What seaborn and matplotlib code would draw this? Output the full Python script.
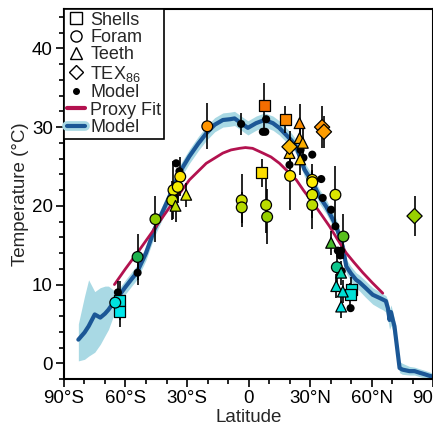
import numpy as np
import pandas as pd
import matplotlib
matplotlib.use('Agg')
import matplotlib.pyplot as plt
from matplotlib.lines import Line2D
from matplotlib.colors import LinearSegmentedColormap
from matplotlib.ticker import MultipleLocator
import seaborn as sns

# model zonal mean curve
model_lat = [-83, -80, -78, -75, -72.3, -70, -68.3, -65.9, -63.4, -60, -57, -54.5, -50, -45.9,
             -42, -38.5, -33.7, -28.8, -24.5, -20.6, -16.5, -12.5, -9, -6.8, -3.6, -0.3, 3.7,
             7.8, 11.9, 15, 18.4, 21, 23.3, 27.3, 31.4, 34.6, 37.9, 40.5, 42.8, 46, 47.7, 50,
             52.5, 54.1, 57, 60.6, 63.9, 65.5, 67, 68, 68.8, 69.5, 70.3, 71.2, 72.8, 73.7, 75,
             78.5, 81, 83.4, 86, 88.3, 90]
model_T = [3.0, 3.9, 4.7, 6.2, 5.8, 6.3, 6.8, 7.7, 8.5, 9.7, 10.7, 11.5, 14.0, 17.0,
           19.2, 21.2, 24.2, 26.3, 27.9, 29.2, 30.3, 30.9, 31.0, 31.1, 30.5, 29.9, 30.5,
           30.9, 30.5, 29.9, 29.0, 28.3, 27.5, 24.6, 22.9, 21.2, 19.9, 18.6, 17.4, 14.8, 12.3, 11.4,
           10.6, 10.3, 9.6, 8.7, 8.3, 8.1, 7.9, 7.0, 5.5, 6.5, 5.6, 4.7, 1.3, -0.6, -0.8,
           -1.0, -1.0, -1.2, -1.4, -1.6, -1.7]
model_lo = [0.3, 0.5, 0.9, 1.4, 2.4, 3.5, 4.3, 6.0, 7.5, 8.8, 9.8, 10.6, 13.1, 16.1,
            18.3, 20.3, 23.3, 25.4, 27.0, 28.3, 29.4, 30.0, 30.1, 30.2, 29.6, 29.0, 29.6,
            30.0, 29.6, 29.0, 28.1, 27.4, 26.6, 23.7, 22.0, 20.3, 19.0, 17.7, 16.5, 13.9, 11.4, 10.4,
            9.6, 9.2, 8.4, 7.5, 7.0, 6.8, 6.5, 5.5, 4.3, 4.8, 4.2, 2.8, 0.4, -1.2, -1.4,
            -1.5, -1.5, -1.7, -1.9, -2.0, -2.0]
model_hi = [5.0, 8.5, 10.6, 9.1, 9.6, 9.8, 9.8, 9.3, 9.4, 10.6, 11.6, 12.4, 14.9, 17.9,
            20.1, 22.1, 25.1, 27.2, 28.8, 30.1, 31.2, 31.8, 31.9, 32.0, 31.4, 30.8, 31.4,
            31.8, 31.4, 30.8, 29.9, 29.2, 28.4, 25.5, 23.8, 22.1, 20.8, 19.5, 18.3, 15.7, 13.2, 12.3,
            11.5, 11.2, 10.5, 9.6, 9.1, 8.8, 8.6, 8.0, 6.8, 7.4, 6.6, 5.6, 2.3, 0.2, 0.0,
            -0.4, -0.5, -0.7, -0.9, -1.1, -1.3]

# proxy fit curve
fit_lat = [-65.4, -60, -53.2, -45, -36.9, -28.8, -20.6, -12.5, -8.5, -4.4, -1.5, 2, 7,
           11, 15.1, 19, 23.3, 27, 31.4, 35.5, 39.5, 43.5, 47.7, 51.5, 55.8, 60.5, 65.5]
fit_T = [10.0, 12.0, 14.4, 17.4, 20.4, 23.3, 25.4, 26.7, 27.1, 27.3, 27.4, 27.3, 26.7,
         26.2, 25.4, 24.4, 23.3, 21.9, 20.4, 18.9, 17.4, 15.7, 14.0, 12.8, 11.5, 10.2, 8.9]

# proxy records: latitude, temperature, error, type
proxy_lat = [-62.9, -62.9, 6.5, 7.8, 18.0, 50.1, 49.6,
             -65.0, -54.1, -45.4, -36.6, -37.2, -33.3, -34.5, -20.1, -3.3, -3.3, 8.6, 9.1,
             20.3, 31.1, 31.1, 31.1, 31.1, 42.4, 46.3, 43.1,
             -35.6, -30.4, 20.0, 24.9, 24.9, 26.5, 25.2, 40.3, 45.2, 42.8, 46.0, 45.2,
             20.0, 35.9, 36.8, 81.0]
proxy_T = [8.0, 6.6, 24.2, 32.7, 31.0, 9.4, 8.7,
           7.7, 13.5, 18.3, 22.0, 20.7, 23.7, 22.4, 30.1, 20.7, 19.8, 20.1, 18.6,
           23.8, 23.3, 23.0, 21.4, 20.1, 21.4, 16.1, 12.2,
           20.0, 21.4, 26.7, 30.5, 28.6, 28.0, 25.9, 15.3, 11.5, 9.8, 9.1, 7.2,
           27.5, 30.0, 29.4, 18.7]
proxy_err = [2.5, 2.0, 1.8, 2.9, 1.7, 1.5, 1.5,
             0.0, 2.9, 2.9, 3.7, 2.5, 2.5, 2.0, 2.9, 3.4, 2.0, 3.5, 3.5,
             4.3, 2.0, 1.5, 3.0, 3.0, 3.6, 2.8, 2.0,
             2.0, 1.5, 2.0, 2.4, 2.0, 2.0, 2.0, 1.5, 1.5, 1.5, 1.5, 1.5,
             2.0, 2.7, 2.0, 2.5]
proxy_type = (['Shells'] * 7 + ['Foram'] * 20 + ['Teeth'] * 12 + ['TEX86'] * 4)

# model values at proxy sites
site_lat = [-63.7, -54.1, -35.3, -33.7, -36.0, -3.6, 8.6, 7.0, 8.2, 20.0, 25.4, 26.8, 31.1,
            35.5, 36.2, 40.3, 42.4, 43.6, 45.2, 44.7, 45.5, 49.8]
site_T = [9.0, 11.5, 25.4, 24.4, 21.0, 30.4, 31.0, 29.4, 29.4, 25.2, 27.1, 26.1, 26.5,
          23.4, 21.0, 19.5, 17.4, 14.3, 14.3, 13.7, 11.7, 7.0]
site_err = [1.5, 1.5, 0, 0, 0, 1.4, 0, 0, 0, 0, 0, 0, 0, 0, 0, 0, 0, 0, 0, 0, 0, 0]

xticks = [-90, -60, -30, 0, 30, 60, 90]
xticklabels = ['90°S', '60°S', '30°S', '0', '30°N', '60°N', '90°N']

sns.set_style('ticks')
plt.rcParams['font.family'] = ['Liberation Sans', 'DejaVu Sans']
plt.rcParams['mathtext.default'] = 'regular'

proxies = pd.DataFrame({'lat': proxy_lat, 'T': proxy_T, 'err': proxy_err, 'kind': proxy_type})
sites = pd.DataFrame({'lat': site_lat, 'T': site_T, 'err': site_err})
model = pd.DataFrame({'lat': model_lat, 'T': model_T})
fit = pd.DataFrame({'lat': fit_lat, 'T': fit_T})

dark_blue = '#1b5796'
light_blue = '#a9d9e4'
crimson = '#b3124f'
cmap = LinearSegmentedColormap.from_list('temps', [
    (0.0, '#00e8f0'), (0.18, '#00d8c0'), (0.27, '#1fb04a'), (0.42, '#7ec800'),
    (0.52, '#c8e000'), (0.6, '#fff000'), (0.72, '#f8c400'), (0.86, '#ff9500'), (1.0, '#ee5a00')])

fig = plt.figure(figsize=(4.33, 4.32), dpi=100)
ax = fig.add_axes([64 / 433, 53 / 432, 369 / 433, 370 / 432])

ax.fill_between(model_lat, model_lo, model_hi, color=light_blue, lw=0, zorder=1)
sns.lineplot(data=model, x='lat', y='T', color=dark_blue, lw=3, sort=False, ax=ax, zorder=2)
sns.lineplot(data=fit, x='lat', y='T', color=crimson, lw=2, sort=False, ax=ax, zorder=2.5)

bars = pd.concat([proxies[proxies['err'] > 0], sites[sites['err'] > 0]])
ax.vlines(bars['lat'], bars['T'] - bars['err'], bars['T'] + bars['err'],
          color='black', lw=1.2, zorder=3)

sns.scatterplot(data=sites, x='lat', y='T', color='black', s=34, edgecolor='none',
                ax=ax, zorder=3.5, legend=False)
sns.scatterplot(data=proxies, x='lat', y='T', hue='T', style='kind',
                markers={'Shells': 's', 'Foram': 'o', 'Teeth': '^', 'TEX86': 'D'},
                palette=cmap, hue_norm=(6, 34), s=60, edgecolor='black', linewidth=0.9,
                ax=ax, zorder=4, legend=False)

ax.set_xlim(-90, 90)
ax.set_ylim(-2, 45)
ax.set_xticks(xticks)
ax.set_xticklabels(xticklabels)
ax.set_yticks([0, 10, 20, 30, 40])
ax.xaxis.set_minor_locator(MultipleLocator(10))
ax.yaxis.set_minor_locator(MultipleLocator(2))
ax.tick_params(which='major', length=6, width=1.2, labelsize=13.5, color='black',
               labelcolor='black', pad=2)
ax.tick_params(which='minor', length=3.5, width=1.2, color='black')
for side in ['left', 'bottom', 'top', 'right']:
    ax.spines[side].set_linewidth(1.5)
    ax.spines[side].set_color('black')
ax.set_xlabel('Latitude', fontsize=13.5, labelpad=1)
ax.set_ylabel('Temperature (°C)', fontsize=13.5, labelpad=2)

handles = [
    Line2D([], [], marker='s', ls='', mfc='white', mec='black', ms=8, mew=1),
    Line2D([], [], marker='o', ls='', mfc='white', mec='black', ms=8, mew=1),
    Line2D([], [], marker='^', ls='', mfc='white', mec='black', ms=8, mew=1),
    Line2D([], [], marker='D', ls='', mfc='white', mec='black', ms=7, mew=1),
    Line2D([], [], marker='o', ls='', mfc='black', mec='black', ms=4),
    Line2D([], [], color=crimson, lw=3),
    (Line2D([], [], color=light_blue, lw=7), Line2D([], [], color=dark_blue, lw=3)),
]
labels = ['Shells', 'Foram', 'Teeth', 'TEX$_{86}$', 'Model', 'Proxy Fit', 'Model']
leg = ax.legend(handles, labels, loc='upper left', bbox_to_anchor=(0, 1), borderaxespad=0,
                fontsize=13, handlelength=1.0, handletextpad=0.3, labelspacing=0.02,
                borderpad=0.15, fancybox=False, framealpha=1, edgecolor='black')
leg.get_frame().set_linewidth(1.2)
leg.set_zorder(10)

fig.savefig('out.png', dpi=100)
